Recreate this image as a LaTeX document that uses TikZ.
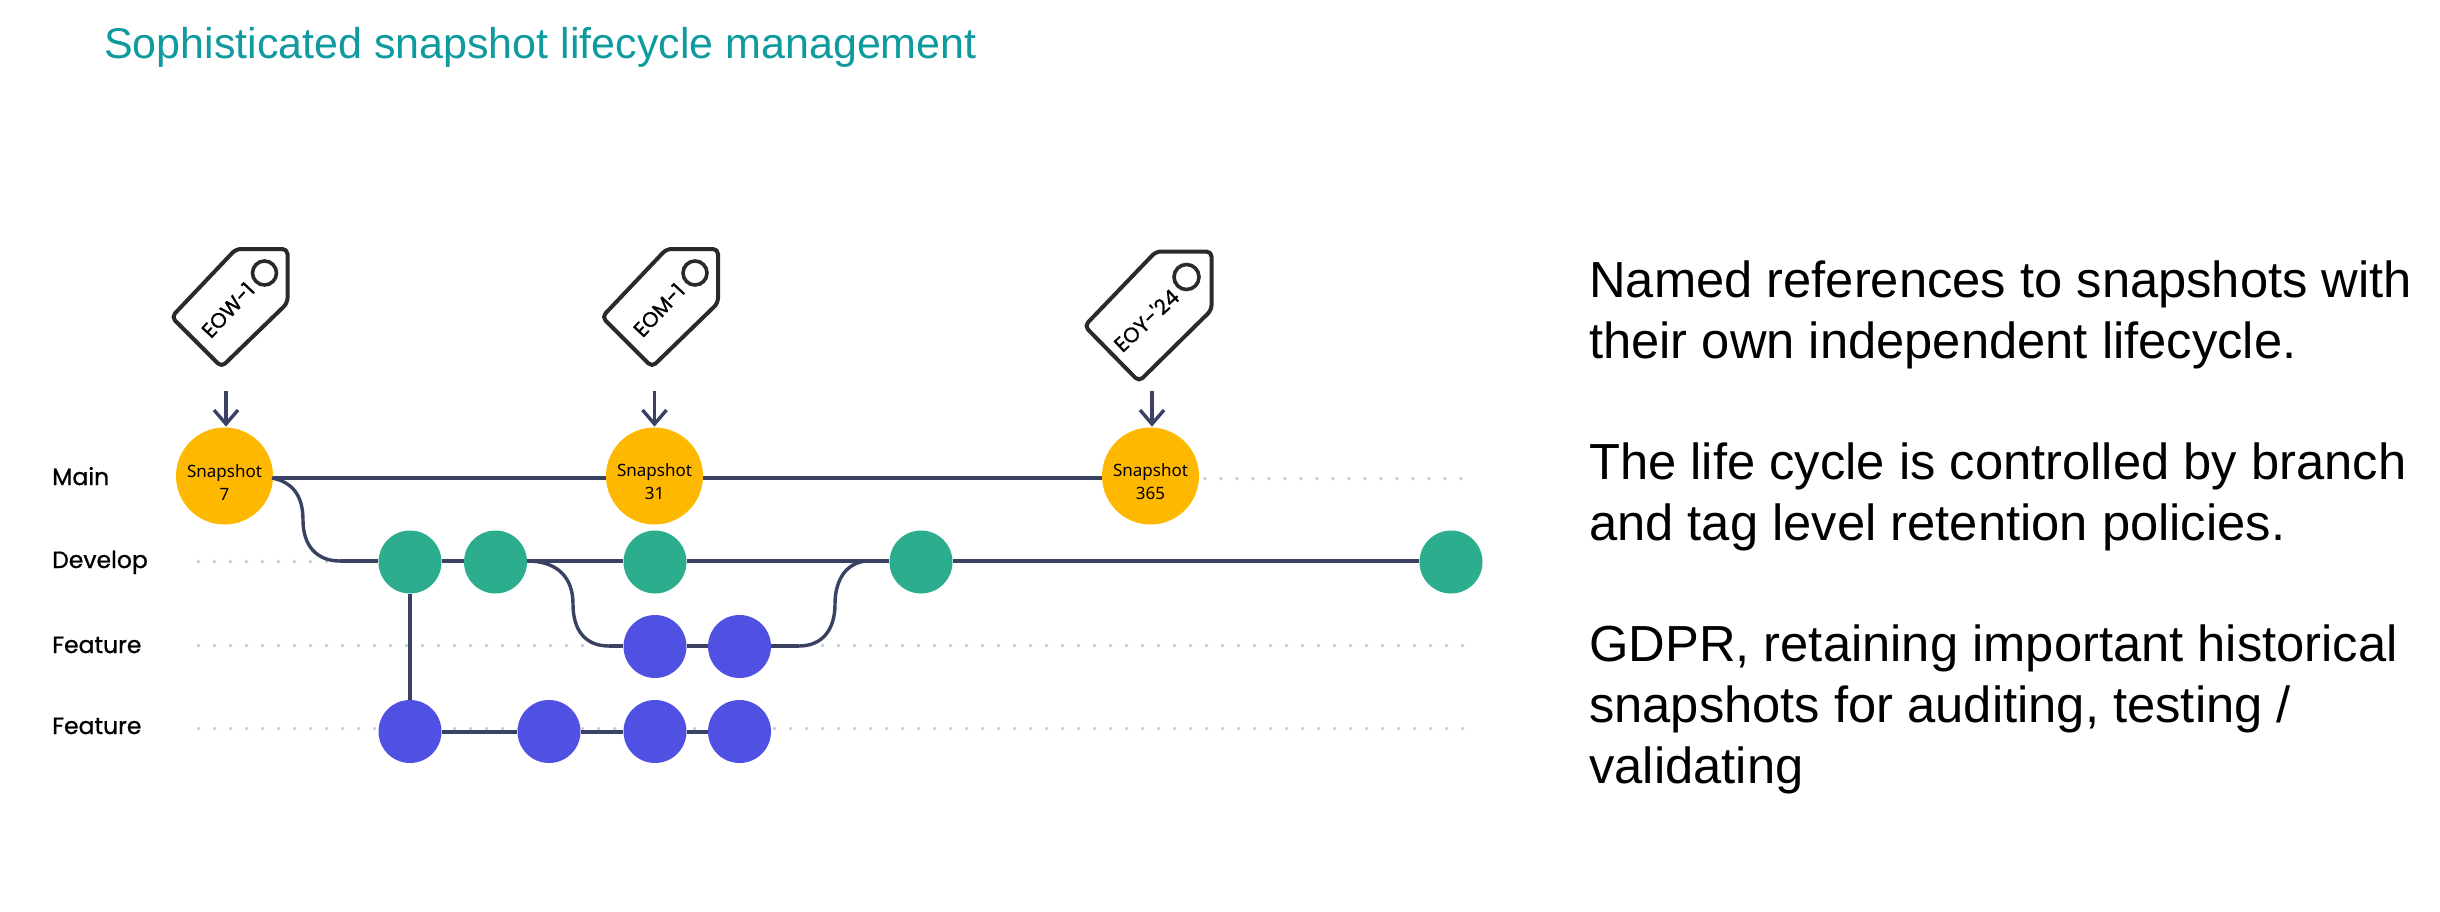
\documentclass[tikz,border=0pt]{standalone}
\usepackage{fontspec}
\setmainfont{Liberation Sans}
\newfontfamily\labelfont[FakeBold=1]{Poppins}
\newfontfamily\snapfont{Noto Sans}
\definecolor{linec}{HTML}{3A4264}
\definecolor{dotc}{HTML}{C4C8DC}
\definecolor{snapc}{HTML}{FFB800}
\definecolor{greenc}{HTML}{2BAD8E}
\definecolor{bluec}{HTML}{5050E3}
\definecolor{titlec}{HTML}{0E9A9E}
\definecolor{tagc}{HTML}{2A2A2A}
\newcommand{\snaptxt}[2]{\rule{0pt}{25pt}#1\\#2}
\tikzset{
  x=1pt,y=-1pt,
  snapnode/.style={circle,fill=snapc,minimum size=97pt,inner sep=0pt,align=center,font=\snapfont\fontsize{17}{23}\selectfont},
  greennode/.style={circle,fill=greenc,minimum size=63pt,inner sep=0pt},
  bluenode/.style={circle,fill=bluec,minimum size=63pt,inner sep=0pt},
  branchline/.style={draw=linec,line width=3.4pt},
  dotline/.style={draw=dotc,line width=3.6pt,line cap=round,dash pattern=on 0pt off 16pt},
  tagshape/.style={draw=tagc,line width=4pt,rounded corners=5pt,line join=round},
  taghole/.style={draw=tagc,line width=3.6pt},
  taglabel/.style={font=\labelfont\fontsize{21}{21}\selectfont,text=black,inner sep=0pt},
  rowlabel/.style={anchor=base west,font=\labelfont\fontsize{23.5}{23.5}\selectfont,text=black,inner sep=0pt},
  bodytext/.style={anchor=base west,font=\fontsize{50.7}{50.7}\selectfont,text=black,inner sep=0pt},
  arrowline/.style={draw=linec,line width=3.4pt},
}
\begin{document}
\begin{tikzpicture}
\useasboundingbox (0,0) rectangle (2440,912);
% dotted guides
\coordinate (dm1) at (1205,478.5); \coordinate (dm2) at (1462,478.5);
\coordinate (dd1) at (198.5,561.5); \coordinate (dd2) at (340,561.5);
\coordinate (df1) at (198.5,645.5); \coordinate (df2) at (1465,645.5);
\coordinate (dg1) at (198.5,728.5); \coordinate (dg2) at (1465,728.5);
\draw[dotline] (dm1) -- (dm2);
\draw[dotline] (dd1) -- (dd2);
\draw[dotline] (df1) -- (df2);
\draw[dotline] (dg1) -- (dg2);
% nodes
\node[snapnode] (s7) at (224.5,476) {\snaptxt{Snapshot}{7}};
\node[snapnode] (s31) at (654.5,476) {\snaptxt{Snapshot}{31}};
\node[snapnode] (s365) at (1150.5,476) {\snaptxt{Snapshot}{365}};
\node[greennode] (g1) at (410,562) {};
\node[greennode] (g2) at (495.5,562) {};
\node[greennode] (g3) at (655,562) {};
\node[greennode] (g4) at (921,562) {};
\node[greennode] (g5) at (1451,562) {};
\node[bluenode] (b1) at (655,646.5) {};
\node[bluenode] (b2) at (739.5,646.5) {};
\node[bluenode] (c1) at (410,731.5) {};
\node[bluenode] (c2) at (549,731.5) {};
\node[bluenode] (c3) at (655,731.5) {};
\node[bluenode] (c4) at (739.5,731.5) {};
% connectors
\coordinate (mainy) at (272,478);
\coordinate (devin) at (340,561);
\coordinate (brout) at (527,561);
\coordinate (brin) at (869,561);
\coordinate (fin) at (609,646);
\coordinate (fout) at (799,646);
\path[branchline] (s7.east |- mainy) -- (s31.west |- mainy);
\path[branchline] (s31.east |- mainy) -- (s365.west |- mainy);
\path[branchline] (mainy) .. controls (292,482) and (303,495) .. (303,520) .. controls (303,545) and (316,561) .. (devin);
\path[branchline] (devin) -- (g1.west |- devin);
\path[branchline] (g1.east |- devin) -- (g2.west |- devin);
\path[branchline] (g2.east |- devin) -- (g3.west |- devin);
\path[branchline] (g3.east |- devin) -- (g4.west |- devin);
\path[branchline] (g4.east |- devin) -- (g5.west |- devin);
\path[branchline] (brout) .. controls (558,561) and (573,578) .. (573,604) .. controls (573,630) and (585,646) .. (fin);
\path[branchline] (fin) -- (b1.west |- fin);
\path[branchline] (b1.east |- fin) -- (b2.west |- fin);
\path[branchline] (b2.east |- fin) -- (fout);
\path[branchline] (fout) .. controls (822,646) and (835,630) .. (835,604) .. controls (835,578) and (848,561) .. (brin);
\path[branchline] (g1.south) -- (c1.north);
\coordinate (lowy) at (410,732);
\path[branchline] (c1.east |- lowy) -- (c2.west |- lowy);
\path[branchline] (c2.east |- lowy) -- (c3.west |- lowy);
\path[branchline] (c3.east |- lowy) -- (c4.west |- lowy);
% tags
\draw[tagshape] (236,249) -- (287.5,249) -- (287.5,303) -- (221.5,367) -- (171.5,317) -- cycle;
\node[taghole,circle,minimum size=24pt,inner sep=0pt] (h1) at (264.5,273) {};
\node[taglabel,rotate=47] (t1) at (228,310) {EOW-1};
\draw[tagshape] (666.5,249) -- (718,249) -- (718,303) -- (652,367) -- (602,317) -- cycle;
\node[taghole,circle,minimum size=24pt,inner sep=0pt] (h2) at (695,273) {};
\node[taglabel,rotate=47] (t2) at (659,310) {EOM-1};
\draw[tagshape] (1156,251.5) -- (1211.5,251.5) -- (1211.5,310) -- (1139,381.5) -- (1084.5,326) -- cycle;
\node[taghole,circle,minimum size=25pt,inner sep=0pt] (h3) at (1186.5,277) {};
\node[taglabel,rotate=43] (t3) at (1146,320) {EOY-'24};
% arrows
\coordinate (a1) at (226,391); \coordinate (a1h) at (226,424);
\coordinate (a2) at (654.5,391); \coordinate (a2h) at (654.5,424);
\coordinate (a3) at (1152,391); \coordinate (a3h) at (1152,424);
\foreach \a in {a1,a2,a3}{
  \draw[arrowline] (\a) -- (\a h);
  \draw[arrowline,line join=miter] ([xshift=-12pt,yshift=14pt]\a h) -- (\a h) -- ([xshift=12pt,yshift=14pt]\a h);
}
% row labels
\node[rowlabel] (lm) at (52,485) {Main};
\node[rowlabel] (ld) at (52,568) {Develop};
\node[rowlabel] (lf) at (52,653) {Feature};
\node[rowlabel] (lg) at (52,734) {Feature};
% title
\node[anchor=base west,inner sep=0pt,text=titlec,font=\fontsize{43}{43}\selectfont] (title) at (104,58.5) {Sophisticated snapshot lifecycle management};
% body
\node[bodytext] (p1) at (1589,297) {Named references to snapshots with};
\node[bodytext] (p2) at (1589,358) {their own independent lifecycle.};
\node[bodytext] (p3) at (1589,479) {The life cycle is controlled by branch};
\node[bodytext] (p4) at (1589,540) {and tag level retention policies.};
\node[bodytext] (p5) at (1589,661) {GDPR, retaining important historical};
\node[bodytext] (p6) at (1589,722) {snapshots for auditing, testing /};
\node[bodytext] (p7) at (1589,783) {validating};
\end{tikzpicture}
\end{document}
